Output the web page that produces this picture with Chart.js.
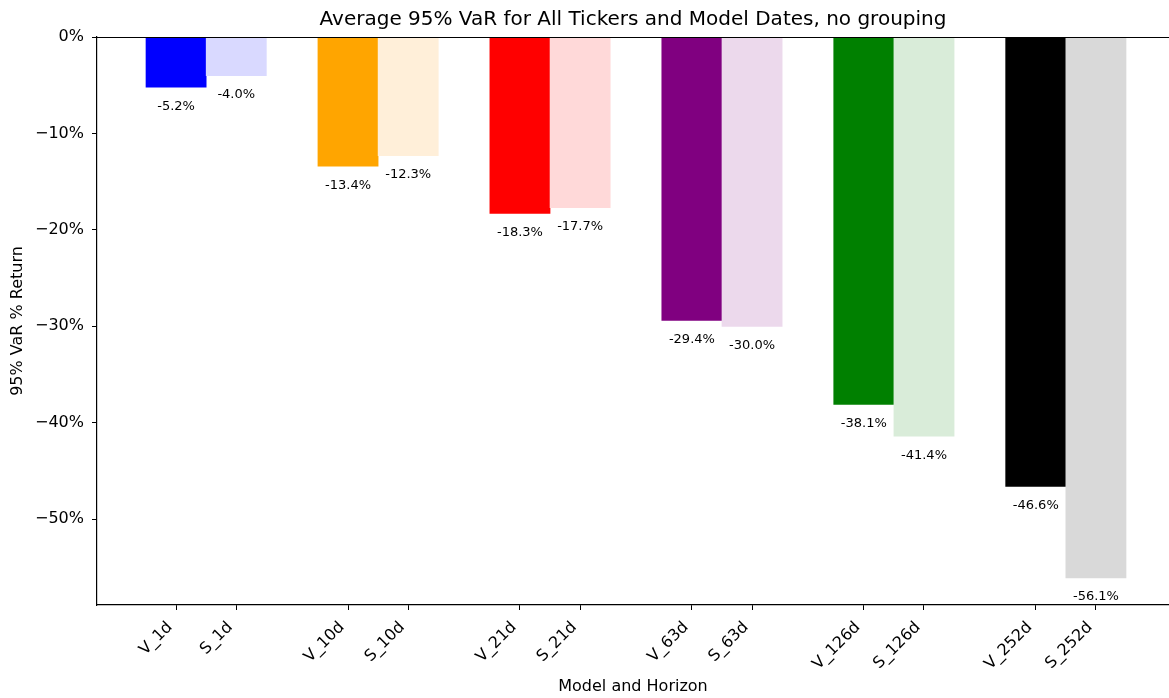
<!DOCTYPE html>
<html lang="en">
<head>
    <meta charset="UTF-8">
    <title>Average 95% VaR</title>
    <script src="https://cdn.jsdelivr.net/npm/chart.js"></script>
    <style>
        html, body { margin: 0; padding: 0; background: #fff; }
        #wrap { width: 1169px; height: 698px; }
    </style>
</head>
<body>
    <div id="wrap"><canvas id="varChart" width="1169" height="698"></canvas></div>

    <script>
        const horizons = ['1d', '10d', '21d', '63d', '126d', '252d'];
        const varValues = [-5.2, -13.4, -18.3, -29.4, -38.1, -46.6];   // V_ model
        const simValues = [-4.0, -12.3, -17.7, -30.0, -41.4, -56.1];   // S_ model
        const varColors = ['#0000ff', '#ffa500', '#ff0000', '#800080', '#008000', '#000000'];
        const simColors = ['#d9d9ff', '#ffefd9', '#ffd9d9', '#ecd9ec', '#d9ecd9', '#d9d9d9'];
        const yTicks = [0, -10, -20, -30, -40, -50];

        const FONT = 'DejaVu Sans';
        const halfWidth = 0.175;

        // one point per bar, V left of the group centre, S right of it
        const points = [], labels = [], colors = [];
        horizons.forEach((h, i) => {
            points.push({ x: i - halfWidth, y: varValues[i] });
            labels.push('V_' + h);
            colors.push(varColors[i]);
            points.push({ x: i + halfWidth, y: simValues[i] });
            labels.push('S_' + h);
            colors.push(simColors[i]);
        });

        const fmtTick = v => v === 0 ? '0%' : '\u2212' + Math.abs(v) + '%';

        const extras = {
            id: 'extras',
            afterDatasetsDraw(chart) {
                const ctx = chart.ctx;
                const meta = chart.getDatasetMeta(0);
                ctx.save();
                ctx.font = '13px "' + FONT + '"';
                ctx.fillStyle = '#000';
                ctx.textAlign = 'center';
                ctx.textBaseline = 'middle';
                meta.data.forEach((el, i) => {
                    ctx.fillText(points[i].y.toFixed(1) + '%', el.x, el.y + 19);
                });
                // top spine
                const a = chart.chartArea;
                ctx.strokeStyle = '#000';
                ctx.lineWidth = 1.2;
                ctx.beginPath();
                ctx.moveTo(a.left, a.top + 0.5);
                ctx.lineTo(a.right, a.top + 0.5);
                ctx.stroke();
                ctx.restore();
            }
        };

        new Chart(document.getElementById('varChart'), {
            type: 'bar',
            data: {
                datasets: [{
                    data: points,
                    backgroundColor: colors,
                    borderWidth: 0,
                    categoryPercentage: 1,
                    barPercentage: 1
                }]
            },
            options: {
                responsive: false,
                animation: false,
                layout: { padding: 0 },
                plugins: {
                    legend: { display: false },
                    tooltip: { enabled: false },
                    title: {
                        display: true,
                        fullSize: false,
                        text: 'Average 95% VaR for All Tickers and Model Dates, no grouping',
                        color: '#000',
                        font: { family: FONT, size: 20, weight: 'normal' },
                        padding: { top: 8, bottom: 5 }
                    }
                },
                scales: {
                    x: {
                        type: 'linear',
                        offset: false,
                        min: -0.635,
                        max: 5.6,
                        afterBuildTicks: s => { s.ticks = points.map(p => ({ value: p.x })); },
                        afterFit: s => { s.height = 93; },
                        grid: { display: true, offset: false, drawOnChartArea: false, tickLength: 5, tickColor: '#000', tickWidth: 1 },
                        border: { color: '#000', width: 1.2 },
                        ticks: {
                            autoSkip: false,
                            minRotation: 45,
                            maxRotation: 45,
                            padding: 8,
                            labelOffset: -6,
                            color: '#000',
                            font: { family: FONT, size: 16 },
                            callback: (v, i) => labels[i]
                        },
                        title: {
                            display: true,
                            text: 'Model and Horizon',
                            color: '#000',
                            font: { family: FONT, size: 16 },
                            padding: { top: 0, bottom: 2 }
                        }
                    },
                    y: {
                        min: -58.9,
                        max: 0,
                        afterBuildTicks: s => { s.ticks = yTicks.map(v => ({ value: v })); },
                        afterFit: s => { s.width = 97; },
                        grid: { display: true, drawOnChartArea: false, tickLength: 5, tickColor: '#000', tickWidth: 1 },
                        border: { color: '#000', width: 1.2 },
                        ticks: {
                            padding: 8,
                            color: '#000',
                            font: { family: FONT, size: 16 },
                            callback: v => fmtTick(v)
                        },
                        title: {
                            display: true,
                            text: '95% VaR % Return',
                            color: '#000',
                            font: { family: FONT, size: 16 },
                            padding: { top: 8, bottom: 0 }
                        }
                    }
                }
            },
            plugins: [extras]
        });
    </script>
</body>
</html>
